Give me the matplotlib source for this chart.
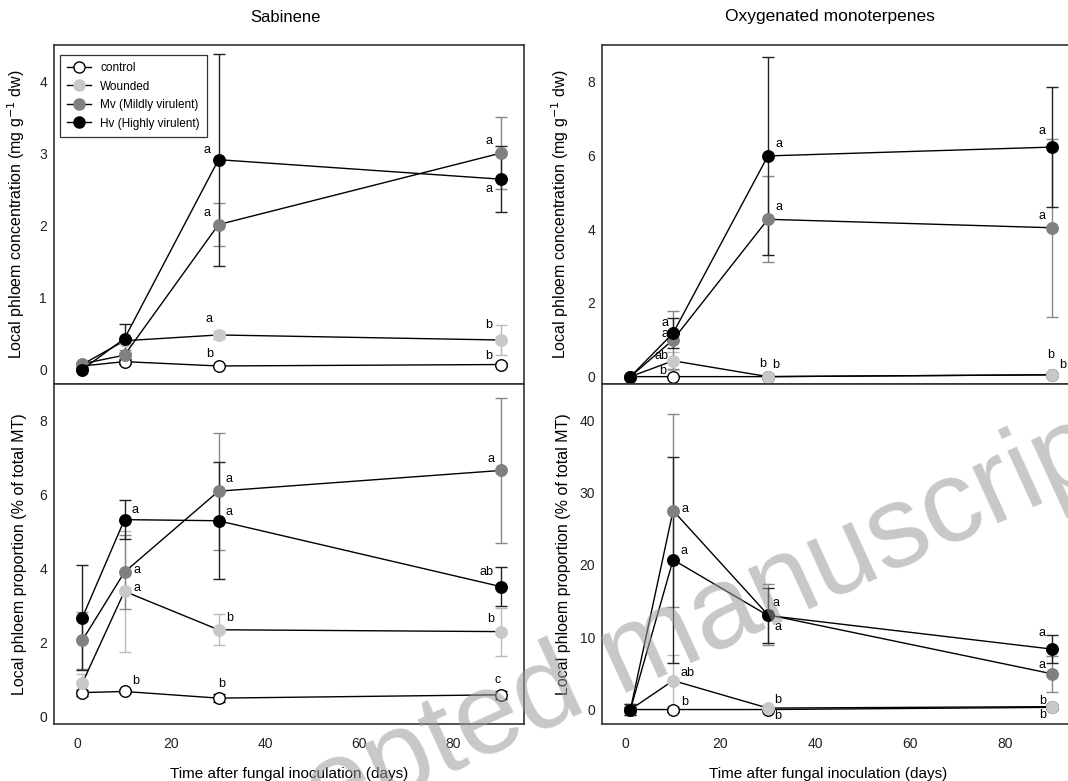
import numpy as np
import matplotlib.pyplot as plt
from matplotlib.lines import Line2D

plt.rcParams['font.family'] = ['Liberation Sans', 'DejaVu Sans']

# Datos (días tras la inoculación)
days = [1, 10, 30, 90]
groups = ['control', 'Wounded', 'Mv (Mildly virulent)', 'Hv (Highly virulent)']

# Sabineno: concentración (mg g-1 dw) -> filas: control, Wounded, Mv, Hv
sab_conc = [[0.05, 0.11, 0.05, 0.07],
            [0.07, 0.40, 0.48, 0.41],
            [0.08, 0.20, 2.01, 3.00],
            [0.00, 0.43, 2.91, 2.64]]
sab_conc_err = [[0.02, 0.03, 0.02, 0.02],
                [0.02, 0.05, 0.05, 0.21],
                [0.02, 0.07, 0.30, 0.50],
                [0.01, 0.20, 1.47, 0.46]]
sab_conc_letters = [['', '', 'b', 'b'],
                    ['', '', 'a', 'b'],
                    ['', '', 'a', 'a'],
                    ['', '', 'a', 'a']]

# Sabineno: proporción (% del total MT)
sab_prop = [[0.65, 0.68, 0.50, 0.59],
            [0.90, 3.39, 2.35, 2.30],
            [2.06, 3.91, 6.10, 6.66],
            [2.67, 5.33, 5.30, 3.52]]
sab_prop_err = [[0.08, 0.05, 0.10, 0.10],
                [0.25, 1.63, 0.42, 0.65],
                [0.77, 1.00, 1.58, 1.97],
                [1.42, 0.52, 1.58, 0.52]]
sab_prop_letters = [['', 'b', 'b', 'c'],
                    ['', 'a', 'b', 'b'],
                    ['', 'a', 'a', 'a'],
                    ['', 'a', 'a', 'ab']]

# Monoterpenos oxigenados: concentración
ox_conc = [[0.0, 0.0, 0.0, 0.05],
           [0.0, 0.43, 0.0, 0.05],
           [0.0, 1.00, 4.27, 4.04],
           [0.0, 1.18, 5.99, 6.23]]
ox_conc_err = [[0.01, 0.02, 0.01, 0.02],
               [0.01, 0.25, 0.02, 0.05],
               [0.01, 0.78, 1.17, 2.41],
               [0.01, 0.40, 2.68, 1.64]]
ox_conc_letters = [['', 'b', 'b', 'b'],
                   ['', 'ab', 'b', 'b'],
                   ['', 'a', 'a', 'a'],
                   ['', 'a', 'a', 'a']]

# Monoterpenos oxigenados: proporción
ox_prop = [[0.0, 0.0, 0.0, 0.3],
           [0.0, 4.0, 0.2, 0.4],
           [0.0, 27.5, 13.1, 4.93],
           [0.0, 20.7, 13.0, 8.35]]
ox_prop_err = [[0.3, 0.3, 0.2, 0.2],
               [0.5, 3.6, 0.3, 0.3],
               [0.8, 13.3, 4.2, 2.45],
               [0.8, 14.2, 3.8, 1.9]]
ox_prop_letters = [['', 'b', 'b', 'b'],
                   ['', 'ab', 'b', 'b'],
                   ['', 'a', 'a', 'a'],
                   ['', 'a', 'a', 'a']]

# Estilos por grupo
face = ['white', '#c8c8c8', '#808080', 'black']
edge = ['black', '#c8c8c8', '#808080', 'black']
ecol = ['black', '#bbbbbb', '#888888', '#222222']

# Desplazamientos (px) de las letras respecto a cada punto
off_sab_conc = [[(0, 0), (0, 0), (-9, 12), (-12, 9)],
                [(0, 0), (0, 0), (-9, 16), (-12, 15)],
                [(0, 0), (0, 0), (-11, 12), (-12, 12)],
                [(0, 0), (0, 0), (-11, 10), (-12, -10)]]
off_sab_prop = [[(0, 0), (11, 10), (3, 14), (-3, 15)],
                [(0, 0), (12, 3), (11, 12), (-10, 13)],
                [(0, 0), (12, 2), (11, 12), (-10, 11)],
                [(0, 0), (10, 10), (11, 9), (-14, 15)]]
off_ox_conc = [[(0, 0), (-10, 6), (8, 12), (10, 10)],
               [(0, 0), (-12, 5), (-5, 13), (-2, 20)],
               [(0, 0), (-8, 6), (11, 12), (-10, 12)],
               [(0, 0), (-8, 10), (11, 12), (-10, 16)]]
off_ox_prop = [[(0, 0), (12, 8), (10, -6), (-10, -8)],
               [(0, 0), (14, 8), (10, 8), (-10, 6)],
               [(0, 0), (12, 2), (8, 12), (-10, 9)],
               [(0, 0), (11, 9), (10, -12), (-10, 16)]]

W, H = 1068, 781
fig = plt.figure(figsize=(W / 100, H / 100), dpi=100)


def px_axes(x0, y0, x1, y1):
    return fig.add_axes([x0 / W, 1 - y1 / H, (x1 - x0) / W, (y1 - y0) / H])


def draw(ax, means, errs, letters, offsets, ylim, yticks):
    for g in range(4):
        ax.errorbar(days, means[g], yerr=errs[g], fmt='none', ecolor=ecol[g],
                    elinewidth=1, capsize=4, capthick=1, zorder=2)
        ax.plot(days, means[g], color='black', lw=1.0, marker='o', ms=8.3,
                mfc=face[g], mec=edge[g], mew=1, zorder=3 + g)
        for d in range(4):
            if letters[g][d]:
                ax.annotate(letters[g][d], (days[d], means[g][d]), xytext=offsets[g][d],
                            textcoords='offset pixels', ha='center', va='center',
                            fontsize=9, zorder=8)
    ax.set_xlim(-5, 95)
    ax.set_ylim(*ylim)
    ax.set_yticks(yticks)
    ax.set_xticks([0, 20, 40, 60, 80])
    ax.tick_params(length=0, labelsize=10, labelcolor='#222222')
    ax.tick_params(axis='y', pad=5)
    ax.tick_params(axis='x', pad=9)
    for s in ax.spines.values():
        s.set_color('#333333')
        s.set_linewidth(1.2)


ax1 = px_axes(54, 45, 524, 384)
ax2 = px_axes(54, 384, 524, 724)
ax3 = px_axes(602, 45, 1076, 384)
ax4 = px_axes(602, 384, 1076, 724)

draw(ax1, sab_conc, sab_conc_err, sab_conc_letters, off_sab_conc, (-0.2, 4.5), [0, 1, 2, 3, 4])
draw(ax2, sab_prop, sab_prop_err, sab_prop_letters, off_sab_prop, (-0.2, 9.0), [0, 2, 4, 6, 8])
draw(ax3, ox_conc, ox_conc_err, ox_conc_letters, off_ox_conc, (-0.2, 9.0), [0, 2, 4, 6, 8])
draw(ax4, ox_prop, ox_prop_err, ox_prop_letters, off_ox_prop, (-2, 45), [0, 10, 20, 30, 40])

for ax in (ax1, ax3):
    ax.tick_params(labelbottom=False)

conc_label = 'Local phloem concentration (mg g$^{-1}$ dw)'
prop_label = 'Local phloem proportion (% of total MT)'
ax1.set_ylabel(conc_label, fontsize=11.5)
ax3.set_ylabel(conc_label, fontsize=11.5)
ax2.set_ylabel(prop_label, fontsize=11.5)
ax4.set_ylabel(prop_label, fontsize=11.5)
for ax in (ax1, ax2):
    ax.yaxis.set_label_coords(-27 / 470, 0.5)
for ax in (ax3, ax4):
    ax.yaxis.set_label_coords(-31 / 474, 0.5)

ax2.set_xlabel('Time after fungal inoculation (days)', fontsize=11)
ax4.set_xlabel('Time after fungal inoculation (days)', fontsize=11)
ax2.xaxis.set_label_coords(0.5, -43 / 340)
ax4.xaxis.set_label_coords(0.477, -43 / 340)

fig.text(285 / W, 1 - 17 / H, 'Sabinene', ha='center', va='center', fontsize=12)
fig.text(830 / W, 1 - 17 / H, 'Oxygenated monoterpenes', ha='center', va='center', fontsize=12.5)

handles = [Line2D([], [], color='black', lw=1.0, marker='o', ms=8,
                  mfc=face[g], mec=edge[g]) for g in range(4)]
leg = ax1.legend(handles, groups, loc='upper left', fontsize=8.5, frameon=True,
                 fancybox=False, edgecolor='black', handlelength=2.0,
                 borderpad=0.6, labelspacing=0.55, bbox_to_anchor=(0.0, 0.988))
leg.get_frame().set_linewidth(0.9)

# Marca de agua
fig.text(0.59, 0.158, 'Accepted manuscript', fontsize=84, color='#9a9a9a', alpha=0.55,
         rotation=24.5, ha='center', va='center', rotation_mode='anchor', zorder=20)

fig.savefig('out.png', dpi=100)
